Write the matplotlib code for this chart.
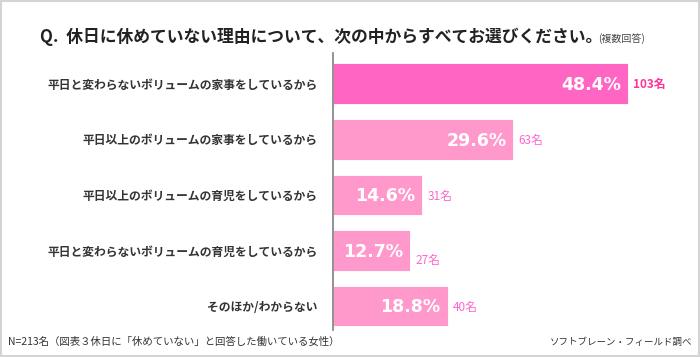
import matplotlib
matplotlib.use("Agg")
from matplotlib import pyplot as plt
from matplotlib.patches import Rectangle

plt.rcParams['font.family'] = ['Noto Sans CJK JP', 'DejaVu Sans']

categories = [
    "平日と変わらないボリュームの家事をしているから",
    "平日以上のボリュームの家事をしているから",
    "平日以上のボリュームの育児をしているから",
    "平日と変わらないボリュームの育児をしているから",
    "そのほか/わからない",
]
percents = [48.4, 29.6, 14.6, 12.7, 18.8]
counts = [103, 63, 31, 27, 40]

bar_colors = ["#FF66C4"] + ["#FF99CC"] * 4
count_colors = ["#FF3399"] + ["#FF66CC"] * 4

fig = plt.figure(figsize=(7, 3.57), dpi=100)
fig.patch.set_facecolor("white")

# grey frame round the whole picture
fig.add_artist(Rectangle((0.002, 0.003), 0.996, 0.994, transform=fig.transFigure,
                         fill=False, edgecolor="#D4D4D4", linewidth=1.5))

ax = fig.add_axes([333 / 700, 1 - 330 / 357, 335 / 700, 277 / 357])
ypos = list(range(len(categories)))
ax.barh(ypos, percents, height=0.73, color=bar_colors, edgecolor="white", linewidth=0.6)
ax.set_xlim(0, 55)
ax.set_ylim(4.43, -0.55)

for s in ["top", "right", "bottom"]:
    ax.spines[s].set_visible(False)
ax.spines["left"].set_color("#7F7F7F")
ax.spines["left"].set_linewidth(1.2)
ax.set_xticks([])
ax.set_yticks(ypos)
ax.set_yticklabels(categories, fontsize=8.5, fontweight="bold", color="#333333")
ax.tick_params(axis="y", length=0, pad=11)

for i, (p, c) in enumerate(zip(percents, counts)):
    ax.annotate(f"{p:.1f}%", (p, i), xytext=(-5, -1), textcoords="offset points",
                ha="right", va="center", color="white", fontsize=12.5,
                fontweight="bold", family="DejaVu Sans")
    dy = -7 if i == 3 else -1
    ax.annotate(f"{c}名", (p, i), xytext=(4, dy), textcoords="offset points",
                ha="left", va="center", color=count_colors[i], fontsize=8.5,
                fontweight="bold" if i == 0 else "normal")

fig.text(40 / 700, 1 - 37 / 357, "Q.  休日に休めていない理由について、次の中からすべてお選びください。",
         fontsize=12.1, fontweight="bold", color="#222222", va="center", ha="left")
fig.text(598 / 700, 1 - 39 / 357, "(複数回答)", fontsize=7.2, color="#444444",
         va="center", ha="left")

fig.text(8 / 700, 1 - 342 / 357, "N=213名（図表３休日に「休めていない」と回答した働いている女性）",
         fontsize=7.5, color="#333333", va="center", ha="left")
fig.text(692 / 700, 1 - 342 / 357, "ソフトブレーン・フィールド調べ",
         fontsize=6.8, color="#333333", va="center", ha="right")

fig.savefig("out.png", dpi=100)
